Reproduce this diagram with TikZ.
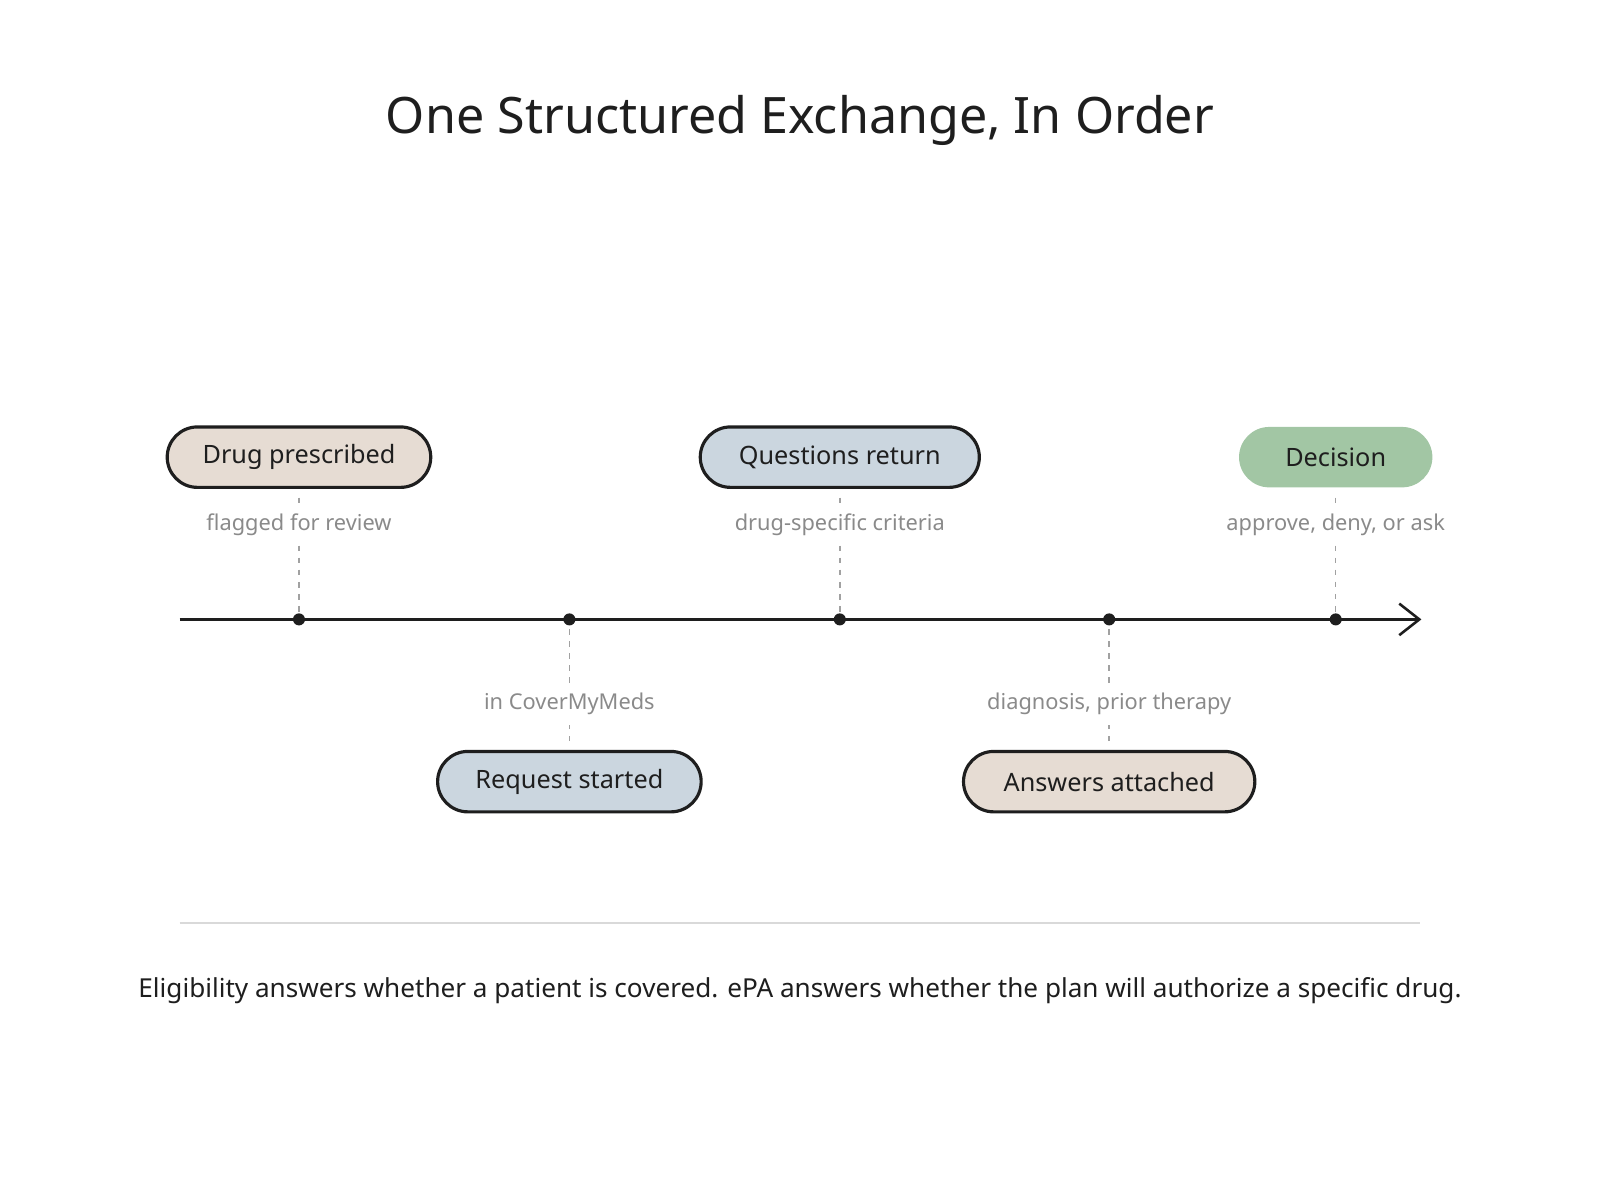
\documentclass[tikz,border=0pt]{standalone}
\usepackage{fontspec}
\setmainfont{Noto Sans}
\usetikzlibrary{shapes.misc,arrows.meta}
\definecolor{beige}{HTML}{E6DCD3}
\definecolor{slate}{HTML}{CBD6DF}
\definecolor{sage}{HTML}{A2C6A4}
\definecolor{ink}{HTML}{1E1E1E}
\definecolor{note}{HTML}{8A8A8A}
\tikzset{
  pill/.style={rounded rectangle, draw=ink, line width=1.1pt, minimum height=0.74cm,
    inner xsep=8pt, font=\fontsize{8.8}{11}\selectfont, text=ink},
  tick/.style={circle, fill=ink, inner sep=0pt, minimum size=4.2pt},
  hint/.style={font=\fontsize{7.6}{9}\selectfont, text=note},
  leader/.style={draw=note!80, dash pattern=on 2pt off 2.2pt, line width=0.5pt},
}
\begin{document}
\begin{tikzpicture}[x=0.0125cm,y=-0.0125cm]
	\useasboundingbox (0,0) rectangle (1568,1176);
	\node[font=\fontsize{17.5}{21}\selectfont, text=ink] (title) at (784,118) {One Structured Exchange, In Order};
	% axis
	\coordinate (start) at (176,607);
	\coordinate (stop) at (1393,607);
	\draw[line width=0.9pt, ink, -{Straight Barb[length=7pt,width=11pt]}] (start) -- (stop);
	\node[tick] (t1) at (293,607) {};
	\node[tick] (t2) at (558,607) {};
	\node[tick] (t3) at (823,607) {};
	\node[tick] (t4) at (1087,607) {};
	\node[tick] (t5) at (1309,607) {};
	% events above
	\node[pill, fill=beige, minimum width=3.79cm] (drug) at (293,448) {Drug prescribed};
	\node[pill, fill=slate, minimum width=3.98cm] (quest) at (823,448) {Questions return};
	\node[pill, fill=sage, draw=none, minimum width=2.93cm] (dec) at (1309,448) {Decision};
	\node[hint] (h1) at (293,514) {flagged for review};
	\node[hint] (h3) at (823,514) {drug-specific criteria};
	\node[hint] (h5) at (1309,514) {approve, deny, or ask};
	% events below
	\node[pill, fill=slate, minimum width=3.79cm] (req) at (558,766) {Request started};
	\node[pill, fill=beige, minimum width=4.13cm] (ans) at (1087,766) {Answers attached};
	\node[hint] (h2) at (558,690) {in CoverMyMeds};
	\node[hint] (h4) at (1087,690) {diagnosis, prior therapy};
	% leaders
	\foreach \p/\h/\t in {drug/h1/t1, quest/h3/t3, dec/h5/t5}{
		\draw[leader] ([yshift=-3pt]\p.south) -- (\h.north);
		\draw[leader] (\h.south) -- (\t);
	}
	\foreach \p/\h/\t in {req/h2/t2, ans/h4/t4}{
		\draw[leader] ([yshift=3pt]\p.north) -- (\h.south);
		\draw[leader] (\h.north) -- (\t);
	}
	% footer
	\coordinate (ruleL) at (176,905);
	\coordinate (ruleR) at (1392,905);
	\draw[black!15, line width=0.7pt] (ruleL) -- (ruleR);
	\node[font=\fontsize{9.1}{12}\selectfont, text=ink] (caption) at (784,971) {Eligibility answers whether a patient is covered. ePA answers whether the plan will authorize a specific drug.};
\end{tikzpicture}
\end{document}
